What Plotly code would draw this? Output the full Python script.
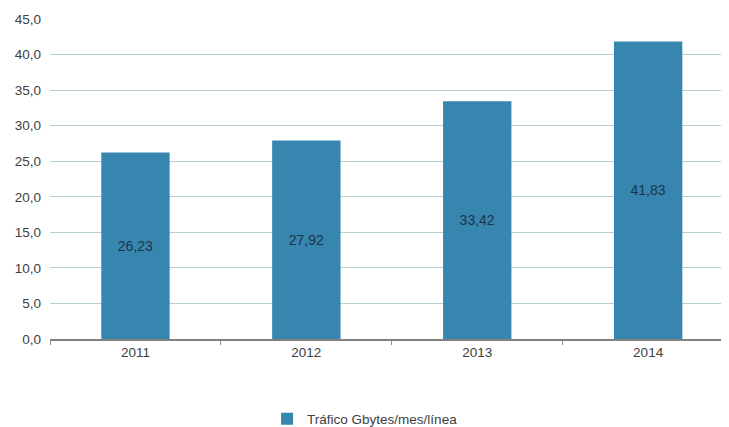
import plotly.graph_objects as go

years = ["2011", "2012", "2013", "2014"]
trafico = [26.23, 27.92, 33.42, 41.83]
y_ticks = [0, 5, 10, 15, 20, 25, 30, 35, 40, 45]
series_name = "Tráfico Gbytes/mes/línea"

labels = [f"{v:.2f}".replace(".", ",") for v in trafico]

fig = go.Figure()
fig.add_trace(go.Bar(
    x=years, y=trafico, name=series_name,
    marker=dict(color="#3786B0", line=dict(width=0)),
    text=labels, textposition="inside", insidetextanchor="middle",
    textfont=dict(color="#1E3448", size=14, family="Liberation Sans"),
    width=0.4,
))

fig.update_layout(
    width=729, height=427,
    margin=dict(l=42, r=0, t=11, b=96, autoexpand=False),
    paper_bgcolor="white", plot_bgcolor="white",
    separators=",.",
    font=dict(family="Liberation Sans", size=13, color="#404040"),
    showlegend=True,
    legend=dict(orientation="h", x=0.316, xanchor="left", y=-0.25, yanchor="middle",
                font=dict(size=13.5, color="#404040"), itemwidth=30),
    xaxis=dict(
        range=[-0.5, 3.52], showgrid=False, showline=True, linecolor="#808080", linewidth=1.5,
        ticks="outside", tickson="boundaries", ticklen=4, tickcolor="#909090",
        tickfont=dict(size=13.5, color="#404040"),
    ),
    yaxis=dict(
        range=[0, 45], tickvals=y_ticks, tickformat=".1f",
        showgrid=True, gridcolor="#B9D0D2", gridwidth=1, zeroline=False,
        tickfont=dict(size=13.5, color="#404040"), ticks="", ticklabelstandoff=8,
    ),
)

fig.write_html("out.html")
